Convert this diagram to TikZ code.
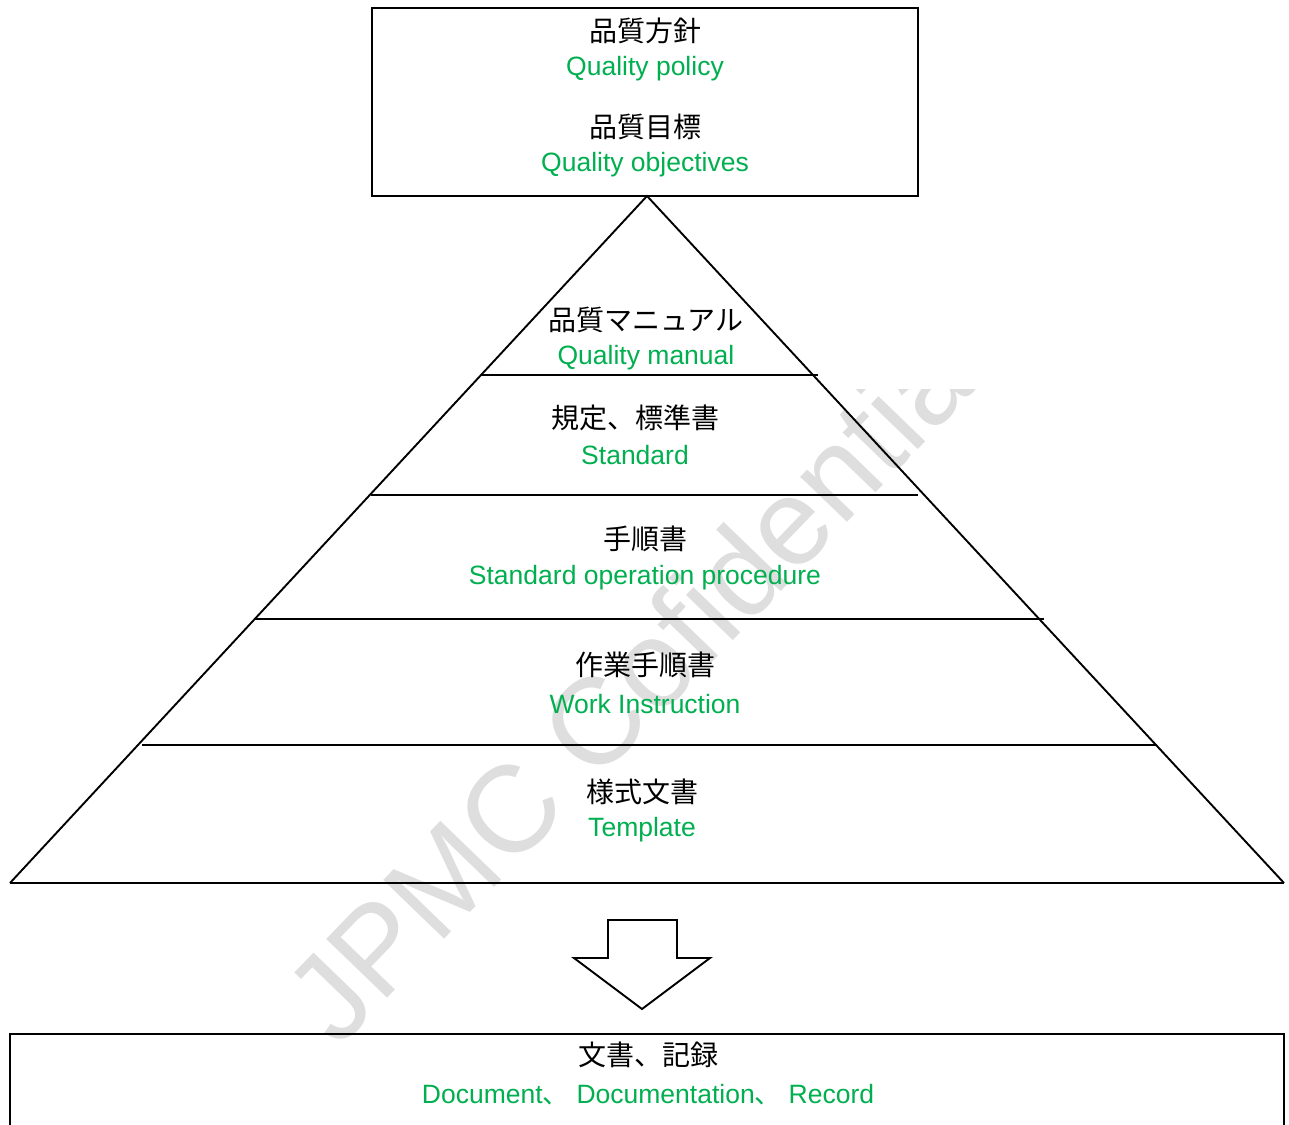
\documentclass[tikz,border=0pt]{standalone}
\usepackage{fontspec}
\setmainfont{Liberation Sans}
\newfontfamily\cjk{Noto Sans CJK JP}
\definecolor{qgreen}{RGB}{0,176,80}
\definecolor{wmgray}{RGB}{222,222,222}
\begin{document}
\begin{tikzpicture}[x=1pt,y=-1pt,
  jp/.style={font=\cjk\fontsize{28}{30}\selectfont, inner sep=0pt},
  en/.style={font=\fontsize{26.5}{30}\selectfont, text=qgreen, inner sep=0pt},
  edge/.style={line width=1.9pt, draw=black, line join=miter},
  wm/.style={font=\fontsize{123}{130}\selectfont, text=wmgray, rotate=46, anchor=base west, inner sep=0pt}
]
\useasboundingbox (0,0) rectangle (1289,1124);
\clip (0,0) rectangle (1289,1124);
\fill[white] (0,0) rectangle (1289,1124);
% watermark
\node[wm] (wmark) at (338,1050) {JPMC Cofidential};
\fill[white] (820,197) rectangle (1289,389);
% top box
\draw[edge, line width=2pt] (372,8) rectangle (918,196);
\node[jp] (t1) at (645,31) {品質方針};
\node[en] (t2) at (645,69) {Quality policy};
\node[jp] (t3) at (645,127) {品質目標};
\node[en] (t4) at (645,165) {Quality objectives};
% pyramid
\coordinate (apex) at (647,196);
\coordinate (bl) at (10,883);
\coordinate (br) at (1284,883);
\draw[edge] (bl) -- (apex) -- (br);
\draw[edge] (bl) -- (br);
\draw[edge] (481,375) -- (818,375);
\draw[edge] (371,495) -- (918,495);
\draw[edge] (255,619) -- (1044,619);
\draw[edge] (142,745) -- (1157,745);
\node[jp] (p1) at (646,320) {品質マニュアル};
\node[en] (p1e) at (646,358) {Quality manual};
\node[jp] (p2) at (635,418) {規定、標準書};
\node[en] (p2e) at (635,455) {Standard};
\node[jp] (p3) at (645,539) {手順書};
\node[en] (p3e) at (645,578) {Standard operation procedure};
\node[jp] (p4) at (645,665) {作業手順書};
\node[en] (p4e) at (645,704) {Work Instruction};
\node[jp] (p5) at (642,792) {様式文書};
\node[en] (p5e) at (642,830) {Template};
% block arrow
\draw[edge] (608,920) -- (677,920) -- (677,958) -- (710,958) -- (642,1009) -- (574,958) -- (608,958) -- cycle;
% bottom box
\draw[edge, line width=2.2pt] (10,1034) rectangle (1284,1150);
\node[jp] (b1) at (648,1055) {文書、記録};
\node[en] (b2) at (648,1095) {Document{\cjk 、} Documentation{\cjk 、} Record};
\end{tikzpicture}
\end{document}
